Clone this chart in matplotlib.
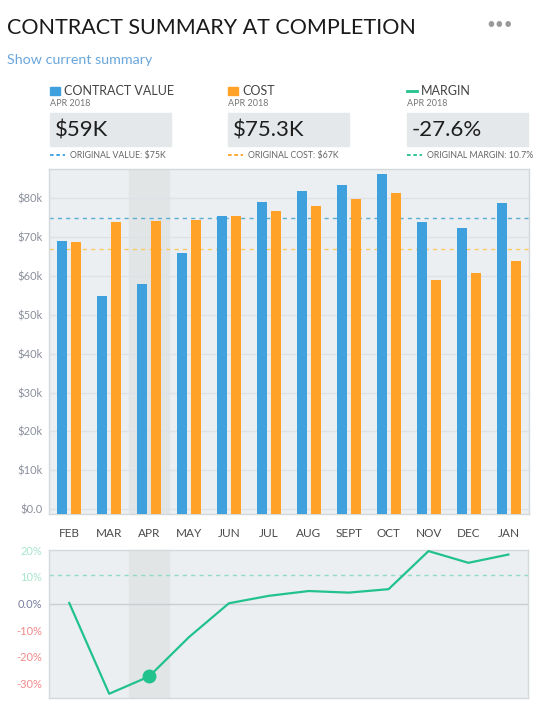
import matplotlib.pyplot as plt
from matplotlib.patches import Rectangle
from matplotlib.lines import Line2D

plt.rcParams['font.family'] = ['Lato', 'DejaVu Sans']

months = ['FEB', 'MAR', 'APR', 'MAY', 'JUN', 'JUL', 'AUG', 'SEPT', 'OCT', 'NOV', 'DEC', 'JAN']
contract_value = [69.0, 54.8, 58.0, 65.9, 75.4, 79.0, 81.8, 83.4, 86.2, 73.9, 72.3, 78.7]
cost = [68.7, 73.9, 74.2, 74.4, 75.4, 76.7, 78.0, 79.8, 81.3, 59.0, 60.8, 63.9]
margin = [0.2, -33.9, -27.4, -12.6, 0.1, 2.9, 4.7, 4.1, 5.4, 19.7, 15.3, 18.4]
original_value = 75
original_cost = 67
original_margin = 10.7
selected = 2  # APR

value_ticks = [0, 10, 20, 30, 40, 50, 60, 70, 80]
value_labels = ['$0.0', '$10k', '$20k', '$30k', '$40k', '$50k', '$60k', '$70k', '$80k']
margin_ticks = [20, 10, 0, -10, -20, -30]
margin_labels = ['20%', '10%', '0.0%', '-10%', '-20%', '-30%']

card_titles = ['CONTRACT VALUE', 'COST', 'MARGIN']
card_period = ['APR 2018', 'APR 2018', 'APR 2018']
card_values = ['$59K', '$75.3K', '-27.6%']
card_notes = ['ORIGINAL VALUE: $75K', 'ORIGINAL COST: $67K', 'ORIGINAL MARGIN: 10.7%']

BLUE = '#3ea1de'
ORANGE = '#ffa227'
GREEN = '#22c28c'
BG = '#eceff2'
BAND = '#e1e5e6'
FRAME = '#d3d8db'

W, H = 542, 710
fig = plt.figure(figsize=(W / 100, H / 100), dpi=100)


def fx(x):
    return x / W


def fy(y):
    return 1 - y / H


# header
fig.text(fx(7), fy(28), 'CONTRACT SUMMARY AT COMPLETION', fontsize=15.5,
         color='#1a1a1a', va='center')
fig.text(fx(500), fy(25), '•••', fontsize=11, color='#999999', va='center', ha='center')
fig.text(fx(7), fy(60), 'Show current summary', fontsize=10.3, color='#6aa6dc', va='center')

card_x = [49.7, 228, 407]
card_colors = [BLUE, ORANGE, GREEN]
for i in range(3):
    x0 = card_x[i]
    if i < 2:
        fig.patches.append(Rectangle((fx(x0), fy(95)), 10 / W, 8.5 / H,
                                     transform=fig.transFigure, color=card_colors[i]))
    else:
        fig.lines.append(Line2D([fx(x0), fx(x0 + 10)], [fy(91), fy(91)],
                                transform=fig.transFigure, color=card_colors[i], lw=2))
    fig.text(fx(x0 + 14), fy(91), card_titles[i], fontsize=9, color='#444444', va='center')
    fig.text(fx(x0), fy(104), card_period[i], fontsize=6.5, color='#777777', va='center')
    fig.patches.append(Rectangle((fx(x0), fy(146)), 121 / W, 33 / H,
                                 transform=fig.transFigure, color='#e5e8ea'))
    fig.text(fx(x0 + 5), fy(130.5), card_values[i], fontsize=16, color='#1e1e1e', va='center')
    fig.lines.append(Line2D([fx(x0), fx(x0 + 15)], [fy(155), fy(155)],
                            transform=fig.transFigure, color=card_colors[i],
                            lw=1.3, ls=(0, (2, 1.5))))
    fig.text(fx(x0 + 20), fy(155.5), card_notes[i], fontsize=6.3, color='#666666', va='center')

# bar chart
ax = fig.add_axes([fx(49.3), fy(514.3), (528.7 - 49.3) / W, (514.3 - 169.3) / H])
ax.set_facecolor(BG)
x = list(range(len(months)))
y0 = -1.3
ax.set_xlim(-0.5, len(months) - 0.5)
ax.set_ylim(y0, 87.4)
ax.axvspan(selected - 0.5, selected + 0.5, color=BAND, zorder=0)
for t in value_ticks:
    ax.axhline(t, color='#dde2e6', lw=1, zorder=1)
ax.bar([i - 0.175 for i in x], [v - y0 for v in contract_value], bottom=y0,
       width=0.25, color=BLUE, zorder=3)
ax.bar([i + 0.175 for i in x], [v - y0 for v in cost], bottom=y0,
       width=0.25, color=ORANGE, zorder=3)
ax.axhline(original_value, color='#5aaed6', lw=1, ls=(0, (3, 3)), zorder=2)
ax.axhline(original_cost, color='#ffc865', lw=1, ls=(0, (3, 3)), zorder=2)
ax.set_yticks(value_ticks)
ax.set_yticklabels(value_labels, fontsize=8, color='#8a8f9b')
ax.set_xticks(x)
ax.set_xticklabels(months, fontsize=8.5, color='#4a4a4a')
ax.tick_params(length=0, axis='y', pad=5)
ax.tick_params(length=0, axis='x', pad=10)
for s in ax.spines.values():
    s.set_color(FRAME)
    s.set_linewidth(1)

# margin chart
ax2 = fig.add_axes([fx(49.3), fy(698.3), (528.3 - 49.3) / W, (698.3 - 550.3) / H])
ax2.set_facecolor(BG)
ax2.set_xlim(-0.5, len(months) - 0.5)
ax2.set_ylim(-35.6, 20)
ax2.axvspan(selected - 0.5, selected + 0.5, color=BAND, zorder=0)
ax2.axhline(0, color='#c9ced2', lw=1, zorder=1)
ax2.axhline(original_margin, color='#8fdcc0', lw=1, ls=(0, (3, 3)), zorder=1)
ax2.plot(x, margin, color=GREEN, lw=1.6, zorder=3)
ax2.plot([selected], [margin[selected]], 'o', color=GREEN, ms=9, zorder=4)
ax2.set_xticks([])
ax2.set_yticks(margin_ticks)
ax2.set_yticklabels(margin_labels, fontsize=8)
tick_colors = ['#a8e5cc', '#a8e5cc', '#7a7f9e', '#f28a8a', '#f28a8a', '#f28a8a']
for lab, c in zip(ax2.get_yticklabels(), tick_colors):
    lab.set_color(c)
ax2.tick_params(length=0, axis='y', pad=5)
for s in ax2.spines.values():
    s.set_color(FRAME)
    s.set_linewidth(1)

fig.savefig('out.png', dpi=100)
